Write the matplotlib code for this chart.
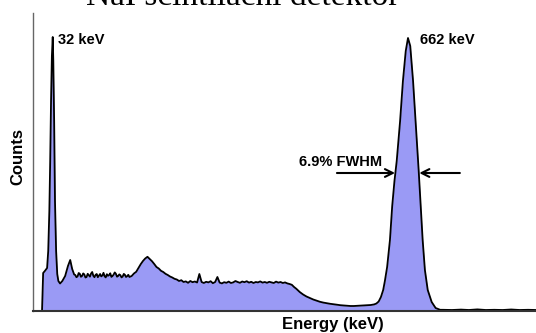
import matplotlib.pyplot as plt

# Spectrum: energy (keV) and counts
low_energy = [13, 15, 18, 22, 24, 26, 27.5, 29, 30.5, 32, 33, 34.5, 36, 38, 40, 42, 45,
              49, 54, 59, 63, 66.5, 70]
low_counts = [0, 380, 400, 430, 600, 1000, 1500, 2100, 2550, 2740, 2500, 1900, 1100, 600, 370, 300, 275,
              300, 350, 450, 510, 420, 365]

plateau_energy = [72, 74, 76, 78, 80, 82, 84, 86, 88, 90, 92, 94, 96, 98, 100, 102, 104, 106, 108, 110,
                  112, 114, 116, 118, 120, 122, 124, 126, 128, 130, 132, 134, 136, 138, 140, 142, 144,
                  146, 148, 150, 152, 154, 156, 158, 160, 162, 164, 166, 168]
plateau_counts = [360, 338, 345, 380, 372, 342, 350, 376, 366, 335, 340, 372, 358, 344, 375, 390, 352, 338,
                  362, 370, 338, 355, 370, 346, 355, 382, 347, 336, 368, 352, 360, 377, 341, 350, 364,
                  386, 372, 343, 350, 366, 358, 336, 344, 371, 362, 340, 348, 362, 340]

bump_energy = [172, 176, 180, 184, 188, 192, 196, 200, 204, 208, 212, 216, 220, 224, 228, 232, 236,
               240, 244, 248]
bump_counts = [350, 375, 392, 430, 468, 500, 525, 542, 520, 498, 470, 440, 425, 402, 390, 372, 360,
               345, 335, 322]

compton_energy = [252, 256, 260, 264, 268, 272, 276, 280, 284, 288, 292, 296, 300, 304, 308, 312, 316,
                  320, 324, 328, 332, 336, 340, 344, 348, 352, 356, 360, 364, 368, 372, 376, 380, 384,
                  388, 392, 396, 400, 404, 408, 412, 416, 420, 424, 428, 432, 436, 440, 444, 448, 452]
compton_counts = [315, 300, 308, 290, 296, 282, 300, 288, 295, 285, 370, 290, 280, 292, 286, 298, 278,
                  290, 340, 284, 276, 288, 282, 294, 280, 286, 300, 290, 282, 295, 288, 298, 284, 292,
                  280, 290, 286, 296, 284, 290, 282, 292, 286, 280, 294, 284, 290, 280, 286, 276, 270]

valley_energy = [456, 460, 464, 470, 476, 482, 488, 494, 500, 506, 512, 518, 524, 530, 536, 542, 548,
                 554, 560, 566, 572, 578, 584, 590, 596, 602, 606, 610, 614, 618, 621, 625]
valley_counts = [262, 240, 222, 190, 165, 145, 130, 115, 103, 92, 84, 78, 72, 68, 63, 58, 55,
                 52, 50, 50, 52, 53, 55, 58, 60, 66, 75, 95, 140, 210, 300, 440]

photo_energy = [630, 634, 638, 642, 648, 653, 658, 662, 666, 671, 676, 681, 685, 688, 692, 697, 704,
                711, 719]
photo_counts = [710, 1050, 1300, 1500, 1900, 2300, 2600, 2730, 2650, 2300, 1850, 1400, 1000, 710, 410,
                210, 90, 30, 12]

tail_energy = [724, 740, 756, 770, 785, 800, 815, 830, 845, 860, 875, 889]
tail_counts = [12, 10, 14, 10, 16, 10, 12, 10, 15, 10, 12, 10]

energy = low_energy + plateau_energy + bump_energy + compton_energy + valley_energy + photo_energy + tail_energy
counts = low_counts + plateau_counts + bump_counts + compton_counts + valley_counts + photo_counts + tail_counts

fig = plt.figure(figsize=(5.36, 3.33), dpi=100)
ax = fig.add_axes([33 / 536, 22 / 333, 503 / 536, 298 / 333])

ax.fill_between(energy, counts, color='#9a9af5', lw=0)
ax.plot(energy, counts, color='black', lw=1.3)

ax.set_xlim(-3, 889)
ax.set_ylim(0, 2980)
ax.set_xticks([])
ax.set_yticks([])
ax.spines['top'].set_visible(False)
ax.spines['right'].set_visible(False)
ax.spines['left'].set_color('#666666')
ax.spines['left'].set_linewidth(1.0)
ax.spines['bottom'].set_color('#333333')
ax.spines['bottom'].set_linewidth(1.5)

lab = dict(family='Liberation Sans', weight='bold', fontsize=10.5)
ax.text(41, 2710, '32 keV', ha='left', va='center', **lab)
ax.text(683, 2710, '662 keV', ha='left', va='center', **lab)
ax.text(616, 1490, '6.9% FWHM', ha='right', va='center', **lab)

arrow = dict(arrowstyle='->', color='black', lw=1.5, mutation_scale=14, shrinkA=0, shrinkB=0)
ax.annotate('', xy=(639, 1380), xytext=(536, 1380), arrowprops=arrow)
ax.annotate('', xy=(682, 1380), xytext=(754, 1380), arrowprops=arrow)

fig.text(333 / 536, 1 - 325 / 333, 'Energy (keV)', ha='center', va='center',
         family='Liberation Sans', weight='bold', fontsize=12)
fig.text(18 / 536, 1 - 157 / 333, 'Counts', ha='center', va='center', rotation=90,
         family='Liberation Sans', weight='bold', fontsize=12)
# title is cut off at the top edge in the original, keep it that way
fig.text(243 / 536, 1 - 5 / 333, 'NaI scintilační detektor', ha='center', va='baseline',
         family='Liberation Serif', fontsize=24)

fig.savefig('out.png', dpi=100)
